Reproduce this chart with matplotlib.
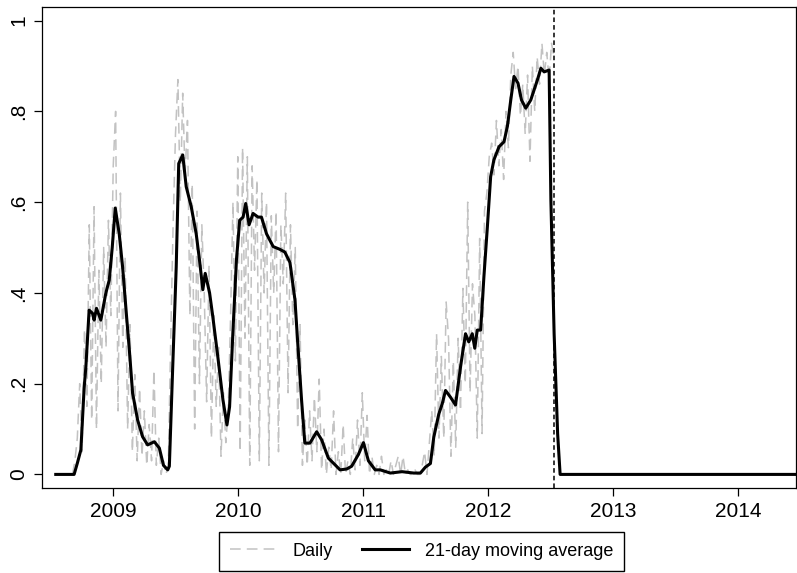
import numpy as np
import matplotlib
matplotlib.use("Agg")
import matplotlib.pyplot as plt

plt.rcParams['font.family'] = ['Liberation Sans', 'DejaVu Sans']

# 21-day moving average (decimal year, value)
ma_year = [2008.540, 2008.687, 2008.713, 2008.741, 2008.767, 2008.781, 2008.807, 2008.834,
           2008.847, 2008.866, 2008.901, 2008.941, 2008.968, 2008.992, 2009.016, 2009.048,
           2009.075, 2009.107, 2009.129, 2009.155, 2009.195, 2009.235, 2009.275, 2009.329,
           2009.369, 2009.402, 2009.436, 2009.449, 2009.476, 2009.504, 2009.524, 2009.556,
           2009.584, 2009.624, 2009.664, 2009.690, 2009.717, 2009.736, 2009.771, 2009.797,
           2009.837, 2009.878, 2009.910, 2009.931, 2009.957, 2009.986, 2010.012, 2010.039,
           2010.060, 2010.087, 2010.119, 2010.159, 2010.186, 2010.227, 2010.280, 2010.333,
           2010.373, 2010.414, 2010.454, 2010.480, 2010.507, 2010.533, 2010.574, 2010.628,
           2010.668, 2010.721, 2010.761, 2010.815, 2010.869, 2010.908, 2010.962, 2011.002,
           2011.042, 2011.096, 2011.137, 2011.217, 2011.311, 2011.404, 2011.458, 2011.498,
           2011.538, 2011.565, 2011.605, 2011.632, 2011.659, 2011.699, 2011.739, 2011.779,
           2011.819, 2011.845, 2011.873, 2011.893, 2011.913, 2011.940, 2011.966, 2011.994,
           2012.020, 2012.046, 2012.087, 2012.127, 2012.154, 2012.181, 2012.207, 2012.239,
           2012.267, 2012.301, 2012.341, 2012.395, 2012.422, 2012.448, 2012.488, 2012.502,
           2012.528, 2012.556, 2012.576, 2014.455]
ma_value = [0.0, 0.0, 0.025, 0.054, 0.19, 0.237, 0.362, 0.355,
            0.34, 0.366, 0.34, 0.40, 0.428, 0.50, 0.587, 0.53,
            0.457, 0.347, 0.274, 0.179, 0.12, 0.083, 0.065, 0.072,
            0.058, 0.02, 0.01, 0.018, 0.237, 0.457, 0.685, 0.704,
            0.634, 0.59, 0.53, 0.473, 0.407, 0.443, 0.40, 0.347,
            0.259, 0.164, 0.109, 0.149, 0.31, 0.473, 0.56, 0.567,
            0.597, 0.55, 0.575, 0.567, 0.567, 0.53, 0.502, 0.496,
            0.49, 0.467, 0.385, 0.274, 0.164, 0.069, 0.069, 0.094,
            0.076, 0.036, 0.025, 0.01, 0.012, 0.018, 0.044, 0.07,
            0.03, 0.01, 0.01, 0.003, 0.006, 0.003, 0.003, 0.016,
            0.024, 0.082, 0.133, 0.155, 0.185, 0.17, 0.153, 0.237,
            0.31, 0.292, 0.31, 0.278, 0.318, 0.318, 0.435, 0.546,
            0.656, 0.693, 0.722, 0.733, 0.767, 0.825, 0.877, 0.862,
            0.825, 0.807, 0.825, 0.87, 0.895, 0.887, 0.891, 0.605,
            0.31, 0.09, 0.0, 0.0]

# daily series, read roughly once a week from 2008.54 to the cut-off
daily_start = 2008.540
daily_value = [
    0, 0, 0, 0, 0, 0, 0, 0,
    0.03, 0.08, 0.20, 0.05, 0.32, 0.15, 0.55, 0.12, 0.59, 0.10,
    0.45, 0.20, 0.50, 0.28, 0.56, 0.35, 0.68, 0.80, 0.14, 0.62,
    0.28, 0.48, 0.10, 0.33, 0.05, 0.22, 0.03, 0.19, 0.04, 0.14,
    0.02, 0.11, 0.03, 0.23, 0.02, 0.08, 0.00, 0.03, 0.00, 0.02,
    0.30, 0.55, 0.75, 0.87, 0.60, 0.84, 0.66, 0.78, 0.35, 0.64,
    0.10, 0.58, 0.20, 0.55, 0.40, 0.16, 0.46, 0.08, 0.35, 0.15,
    0.28, 0.04, 0.18, 0.07, 0.14, 0.35, 0.60, 0.25, 0.70, 0.05,
    0.72, 0.30, 0.70, 0.02, 0.68, 0.45, 0.65, 0.03, 0.62, 0.40,
    0.60, 0.02, 0.57, 0.40, 0.58, 0.05, 0.55, 0.42, 0.62, 0.18,
    0.55, 0.33, 0.50, 0.10, 0.33, 0.02, 0.12, 0.02, 0.14, 0.03,
    0.17, 0.05, 0.21, 0.01, 0.10, 0.00, 0.06, 0.01, 0.14, 0.00,
    0.05, 0.00, 0.11, 0.00, 0.03, 0.00, 0.08, 0.01, 0.12, 0.02,
    0.18, 0.03, 0.13, 0.00, 0.04, 0.00, 0.02, 0.00, 0.04, 0.00,
    0.01, 0.00, 0.03, 0.00, 0.02, 0.04, 0.00, 0.04, 0.00, 0.01,
    0.00, 0.00, 0.01, 0.00, 0.00, 0.02, 0.05, 0.00, 0.07, 0.14,
    0.04, 0.31, 0.08, 0.26, 0.08, 0.38, 0.30, 0.04, 0.25, 0.06,
    0.30, 0.14, 0.41, 0.20, 0.60, 0.18, 0.42, 0.35, 0.08, 0.52,
    0.09, 0.58, 0.62, 0.70, 0.73, 0.66, 0.78, 0.68, 0.76, 0.65,
    0.80, 0.72, 0.88, 0.93, 0.85, 0.90, 0.79, 0.86, 0.75, 0.88,
    0.69, 0.90, 0.80, 0.92, 0.86, 0.95, 0.88, 0.93, 0.87, 0.95,
    0.92]
daily_year = daily_start + np.arange(len(daily_value)) * 7 / 365.25

cutoff_year = 2012.53
year_ticks = [2009, 2010, 2011, 2012, 2013, 2014]
y_ticks = [0, 0.2, 0.4, 0.6, 0.8, 1.0]
y_labels = ["0", ".2", ".4", ".6", ".8", "1"]

fig = plt.figure(figsize=(7.97, 5.73), dpi=100)
ax = fig.add_axes([0.0527, 0.1483, 0.9455, 0.8395])

ax.plot(daily_year, daily_value, color="#c2c2c2", lw=1.1,
        linestyle=(0, (7, 4)), label="Daily")
ax.plot(ma_year, ma_value, color="black", lw=2.2,
        solid_joinstyle="round", label="21-day moving average")
ax.axvline(cutoff_year, color="black", lw=1.1, linestyle=(0, (3, 2)))

ax.set_xlim(2008.430, 2014.46)
ax.set_ylim(-0.030, 1.030)
ax.set_xticks(year_ticks)
ax.set_xticklabels([str(y) for y in year_ticks], fontsize=15)
ax.set_yticks(y_ticks)
ax.set_yticklabels(y_labels, fontsize=15, rotation=90, va="center")
ax.tick_params(length=6, width=0.9, color="black", pad=4)
for s in ax.spines.values():
    s.set_linewidth(0.9)

fig.legend(loc="center", bbox_to_anchor=(0.529, 0.038), ncol=2, fontsize=13,
           frameon=True, fancybox=False, edgecolor="black", framealpha=1,
           handlelength=2.6, handletextpad=0.9, columnspacing=1.6,
           borderpad=0.6)

fig.savefig("out.png", dpi=100)
